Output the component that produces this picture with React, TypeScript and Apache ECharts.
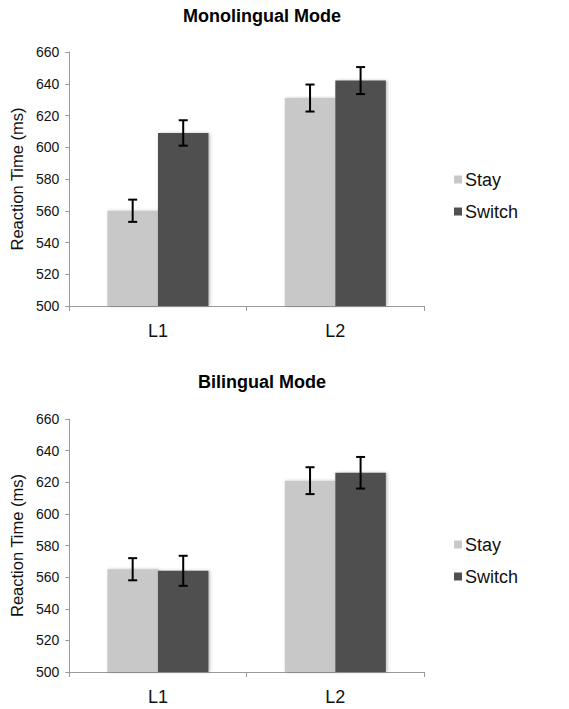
import React, { useEffect, useRef } from "react";
import * as echarts from "echarts";

const categories = ["L1", "L2"];
const seriesNames = ["Stay", "Switch"];
const yMin = 500;
const yMax = 660;
const yInterval = 20;

const monoStay = [560, 631];
const monoStayErr = [7, 8.5];
const monoSwitch = [609, 642];
const monoSwitchErr = [8, 8.5];

const biStay = [565, 621];
const biStayErr = [7, 8.5];
const biSwitch = [564, 626];
const biSwitchErr = [9.5, 10];

const STAY_COLOR = "#c8c8c8";
const SWITCH_COLOR = "#505050";
const FONT = "'Liberation Sans', Arial, Helvetica, sans-serif";
const GAP = 0.43;

function errData(vals: number[], errs: number[]) {
  return vals.map((v, i) => [i, v - errs[i], v + errs[i]]);
}

function makeErrRender(side: number) {
  return (params: any, api: any) => {
    const cat = api.value(0);
    const lo = api.coord([cat, api.value(1)]);
    const hi = api.coord([cat, api.value(2)]);
    const band = api.size([1, 0])[0];
    const off = (side * band * (1 - GAP)) / 4;
    const x = lo[0] + off;
    const cap = 4.5;
    const style = { stroke: "#000", lineWidth: 2 };
    return {
      type: "group",
      children: [
        { type: "line", shape: { x1: x, y1: lo[1], x2: x, y2: hi[1] }, style },
        { type: "line", shape: { x1: x - cap, y1: lo[1], x2: x + cap, y2: lo[1] }, style },
        { type: "line", shape: { x1: x - cap, y1: hi[1], x2: x + cap, y2: hi[1] }, style },
      ],
    };
  };
}

export default function App() {
  const ref = useRef<HTMLDivElement>(null);
  useEffect(() => {
    if (!ref.current) return;
    const chart = echarts.init(ref.current, undefined, { renderer: "svg" });
    const grids = [
      { left: 64, top: 52, width: 360, height: 254 },
      { left: 64, top: 419, width: 360, height: 253 },
    ];
    const axisColor = "#9a9a9a";
    const xAxes = grids.map((_, i) => ({
      type: "category",
      gridIndex: i,
      data: categories,
      axisLine: { lineStyle: { color: axisColor, width: 1 } },
      axisTick: { show: true, alignWithLabel: false, length: 5, lineStyle: { color: axisColor } },
      axisLabel: { color: "#111", fontSize: 18, fontFamily: FONT, margin: 16 },
    }));
    const yAxes = grids.map((_, i) => ({
      type: "value",
      gridIndex: i,
      min: yMin,
      max: yMax,
      interval: yInterval,
      name: "Reaction Time (ms)",
      nameLocation: "middle",
      nameGap: 38,
      nameTextStyle: { color: "#111", fontSize: 16.5, fontFamily: FONT },
      axisLine: { show: true, lineStyle: { color: axisColor, width: 1 } },
      axisTick: { show: true, length: 4, lineStyle: { color: axisColor } },
      splitLine: { show: false },
      axisLabel: { color: "#111", fontSize: 14, fontFamily: FONT, margin: 10 },
    }));
    const barShadow = { shadowColor: "rgba(0,0,0,0.25)", shadowBlur: 3, shadowOffsetX: 1.5, shadowOffsetY: 0 };
    const groups = [
      { stay: monoStay, stayErr: monoStayErr, sw: monoSwitch, swErr: monoSwitchErr },
      { stay: biStay, stayErr: biStayErr, sw: biSwitch, swErr: biSwitchErr },
    ];
    const series: any[] = [];
    groups.forEach((g, i) => {
      series.push({
        type: "bar",
        name: seriesNames[0],
        xAxisIndex: i,
        yAxisIndex: i,
        data: g.stay,
        barGap: "0%",
        barCategoryGap: GAP * 100 + "%",
        itemStyle: { color: STAY_COLOR, ...barShadow },
      });
      series.push({
        type: "bar",
        name: seriesNames[1],
        xAxisIndex: i,
        yAxisIndex: i,
        data: g.sw,
        barGap: "0%",
        barCategoryGap: GAP * 100 + "%",
        itemStyle: { color: SWITCH_COLOR, ...barShadow },
      });
      series.push({
        type: "custom",
        name: "Stay error",
        xAxisIndex: i,
        yAxisIndex: i,
        z: 10,
        data: errData(g.stay, g.stayErr),
        encode: { x: 0, y: [1, 2] },
        renderItem: makeErrRender(-1),
      });
      series.push({
        type: "custom",
        name: "Switch error",
        xAxisIndex: i,
        yAxisIndex: i,
        z: 10,
        data: errData(g.sw, g.swErr),
        encode: { x: 0, y: [1, 2] },
        renderItem: makeErrRender(1),
      });
    });
    const legendBase = {
      orient: "vertical",
      left: 454,
      padding: 0,
      icon: "rect",
      itemWidth: 8,
      itemHeight: 8,
      itemGap: 11,
      selectedMode: false,
      data: seriesNames,
      textStyle: { color: "#111", fontSize: 18, fontFamily: FONT, lineHeight: 21, padding: [0, 0, 0, -2] },
    };
    chart.setOption({
      animation: false,
      backgroundColor: "#fff",
      title: [
        {
          text: "Monolingual Mode",
          left: 262,
          top: 7,
          padding: 0,
          textAlign: "center",
          textStyle: { fontSize: 18, fontWeight: "bold", color: "#000", fontFamily: FONT },
        },
        {
          text: "Bilingual Mode",
          left: 262,
          top: 373,
          padding: 0,
          textAlign: "center",
          textStyle: { fontSize: 18, fontWeight: "bold", color: "#000", fontFamily: FONT },
        },
      ],
      legend: [
        { ...legendBase, top: 169 },
        { ...legendBase, top: 534 },
      ],
      grid: grids,
      xAxis: xAxes,
      yAxis: yAxes,
      series,
    });
    return () => chart.dispose();
  }, []);
  return (
    <div
      ref={ref}
      style={{ position: "fixed", left: 0, top: 0, width: 569, height: 709, background: "#fff" }}
    />
  );
}
